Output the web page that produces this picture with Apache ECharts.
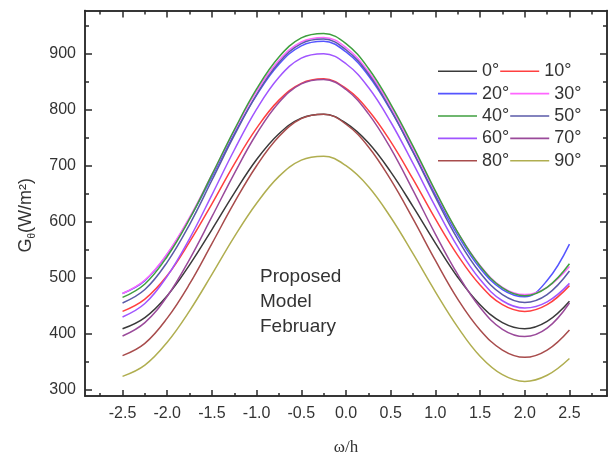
<!DOCTYPE html>
<html>
<head>
<meta charset="utf-8">
<script src="https://cdn.jsdelivr.net/npm/echarts@6/dist/echarts.min.js"></script>
<style>
html,body{margin:0;padding:0;background:#fff;}
#chart{width:614px;height:461px;}
</style>
</head>
<body>
<div id="chart"></div>
<script>
// ---- data ----
const omega = [-2.5,-2.25,-2,-1.75,-1.5,-1.25,-1,-0.75,-0.5,-0.25,0,0.25,0.5,0.75,1,1.25,1.5,1.75,2,2.25,2.5];
const seriesNames = ['0°','10°','20°','30°','40°','50°','60°','70°','80°','90°'];
const g0  = [409,429,468,523,586,651,711,757,785,792,776,741,689,627,562,501,452,420,409,422,458];
const g10 = [440,462,504,564,632,703,767,817,847,855,838,799,743,676,605,540,487,452,440,452,486];
const g20 = [472,495,542,606,680,757,826,881,914,922,903,861,799,725,648,576,517,479,466,495,560];
const g30 = [472,496,543,608,684,762,833,888,921,929,911,868,806,731,653,581,522,483,470,483,520];
const g40 = [465,489,538,605,684,764,837,894,928,936,918,874,810,735,655,581,521,482,468,483,525];
const g50 = [455,479,528,595,674,754,827,884,918,926,907,864,800,724,644,569,509,470,456,470,512];
const g60 = [430,454,503,570,648,728,801,858,892,900,882,840,778,704,627,555,497,459,446,457,490];
const g70 = [396,420,467,533,609,686,757,813,846,854,836,793,731,656,578,506,447,408,395,410,455];
const g80 = [361,383,428,489,561,634,700,752,784,792,774,734,675,605,531,462,407,371,358,371,407];
const g90 = [324,344,385,441,506,573,633,681,710,717,700,663,608,543,475,412,360,327,315,326,356];
const xTicks = [-2.5,-2,-1.5,-1,-0.5,0,0.5,1,1.5,2,2.5];
const xMinorTicks = [-2.75,-2.25,-1.75,-1.25,-0.75,-0.25,0.25,0.75,1.25,1.75,2.25,2.75];
const yTicks = [300,400,500,600,700,800,900];
const yMinorTicks = [350,450,550,650,750,850,950];
const annotation = ['Proposed','Model','February'];

const allValues = [g0,g10,g20,g30,g40,g50,g60,g70,g80,g90];
const colors = ['#3a3a3a','#ff4040','#5555ff','#ff66ff','#3f9f3f','#5a5aa8','#a055ff','#9a4a9a','#a84c4c','#b0ae50'];

const X_MIN = -2.92, X_MAX = 2.92, Y_MIN = 289, Y_MAX = 977;
const FONT = "'Liberation Sans', Arial, sans-serif";
const axisCol = '#2a2a2a';

function xAx(pos, ticks, len, labels) {
  return {
    type: 'value', position: pos, min: X_MIN, max: X_MAX,
    axisLine: {show: true, onZero: false, lineStyle: {color: axisCol, width: 1.5}},
    axisTick: {show: true, inside: true, length: len, customValues: ticks, lineStyle: {color: axisCol, width: 1.5}},
    axisLabel: labels ? {show: true, customValues: ticks, margin: 10, fontSize: 16, color: '#333', fontFamily: FONT,
                formatter: v => v.toFixed(1)} : {show: false},
    splitLine: {show: false}
  };
}
function yAx(pos, ticks, len, labels) {
  return {
    type: 'value', position: pos, min: Y_MIN, max: Y_MAX,
    axisLine: {show: true, onZero: false, lineStyle: {color: axisCol, width: 1.5}},
    axisTick: {show: true, inside: true, length: len, customValues: ticks, lineStyle: {color: axisCol, width: 1.5}},
    axisLabel: labels ? {show: true, customValues: ticks, margin: 9, fontSize: 16, color: '#333', fontFamily: FONT} : {show: false},
    splitLine: {show: false}
  };
}

const xAxes = [xAx('bottom', xTicks, 6, true), xAx('top', xTicks, 7, false), xAx('bottom', xMinorTicks, 3, false), xAx('top', xMinorTicks, 4, false)];
xAxes[0].name = 'ω/h';
xAxes[0].nameLocation = 'middle';
xAxes[0].nameGap = 43;
xAxes[0].nameTextStyle = {fontSize: 17, color: '#333', fontFamily: "'Liberation Serif', 'Times New Roman', serif"};

const yAxes = [yAx('left', yTicks, 7, true), yAx('right', yTicks, 7, false), yAx('left', yMinorTicks, 4, false), yAx('right', yMinorTicks, 4, false)];
yAxes[0].name = '{g|G}{s|θ}{g|(W/m²)}';
yAxes[0].nameLocation = 'middle';
yAxes[0].nameGap = 48;
yAxes[0].nameTextStyle = {
  color: '#333', fontFamily: FONT, padding: [0, 24, 0, 0],
  rich: {
    g: {fontSize: 18, color: '#333', fontFamily: FONT, lineHeight: 22, verticalAlign: 'middle'},
    s: {fontSize: 10, color: '#333', fontFamily: FONT, lineHeight: 22, verticalAlign: 'bottom', padding: [8, 0, 0, 0]}
  }
};

const series = seriesNames.map((n, i) => ({
  name: n, type: 'line', xAxisIndex: 0, yAxisIndex: 0,
  data: omega.map((x, j) => [x, allValues[i][j]]),
  smooth: 0.4, symbol: 'none', showSymbol: false,
  lineStyle: {width: 1.5, color: colors[i]}, itemStyle: {color: colors[i]},
  emphasis: {disabled: true}
}));

const chart = echarts.init(document.getElementById('chart'), null, {renderer: 'canvas'});
chart.setOption({
  animation: false,
  backgroundColor: '#fff',
  grid: {left: 85, right: 7, top: 10.5, bottom: 65, containLabel: false},
  xAxis: xAxes,
  yAxis: yAxes,
  legend: {
    data: seriesNames, left: 438, top: 60.5, width: 170, orient: 'horizontal', padding: 0,
    icon: 'rect', itemWidth: 39, itemHeight: 1.6, itemGap: 1,
    textStyle: {fontSize: 18, color: '#333', fontFamily: FONT, lineHeight: 21.4},
    selectedMode: false
  },
  graphic: [{
    type: 'text', left: 260, top: 264,
    style: {text: annotation.join('\n'), font: '19px ' + FONT, lineHeight: 25, fill: '#333'}
  }],
  series: series
});
</script>
</body>
</html>
